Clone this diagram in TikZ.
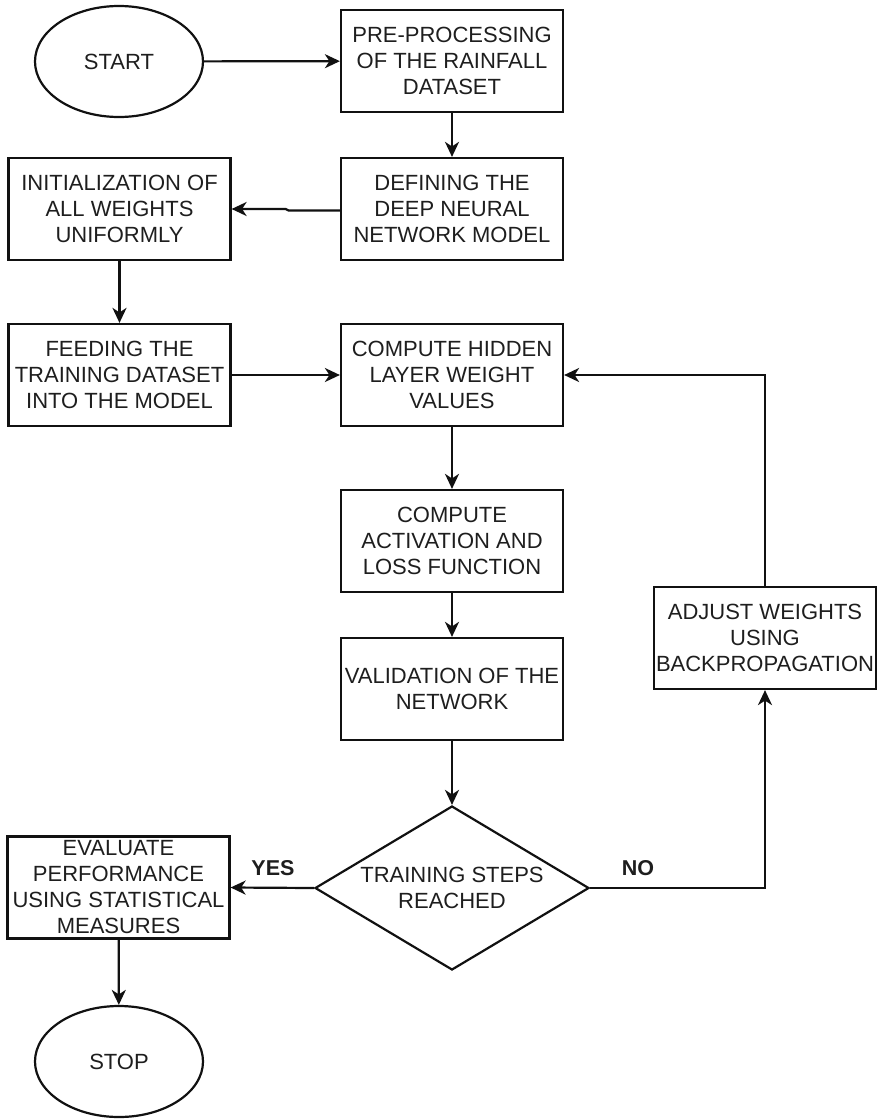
\documentclass[tikz,border=0pt]{standalone}
\usepackage{fontspec}
\setmainfont{Liberation Sans}
\usetikzlibrary{arrows.meta,shapes.geometric}
\definecolor{ink}{HTML}{111111}
\definecolor{txt}{HTML}{1E1E1E}
\begin{document}
\begin{tikzpicture}[x=1pt,y=-1pt,
  base/.style={draw=ink, line width=2.2pt, text=txt, align=center,
    font=\fontsize{22}{26}\selectfont, inner sep=0pt},
  procbox/.style={base, rectangle, minimum width=222pt, minimum height=102pt},
  term/.style={base, ellipse, minimum width=168pt, minimum height=111pt},
  decide/.style={base, diamond, minimum width=274pt, minimum height=164pt},
  arr/.style={draw=ink, line width=2.2pt, -{Stealth[length=15pt,width=14pt,inset=4.5pt]}},
  lbl/.style={text=txt, font=\fontsize{21.5}{26}\selectfont\bfseries}]
\useasboundingbox (0,0) rectangle (878,1120);

% terminals
\node[term] (start) at (119,61.5) {START};
\node[term] (stop)  at (119,1061.5) {STOP};

% process steps
\node[procbox] (pre)  at (452,61)  {PRE-PROCESSING\\OF THE RAINFALL\\DATASET};
\node[procbox] (def)  at (452,209) {DEFINING THE\\DEEP NEURAL\\NETWORK MODEL};
\node[procbox] (init) at (119.5,209) {INITIALIZATION OF\\ALL WEIGHTS\\UNIFORMLY};
\node[procbox] (feed) at (119.5,375) {FEEDING THE\\TRAINING DATASET\\INTO THE MODEL};
\node[procbox] (hid)  at (452,375) {COMPUTE HIDDEN\\LAYER WEIGHT\\VALUES};
\node[procbox] (act)  at (452,541) {COMPUTE\\ACTIVATION AND\\LOSS FUNCTION};
\node[procbox] (val)  at (452,689) {VALIDATION OF THE\\NETWORK};
\node[procbox] (adj)  at (765,638) {ADJUST WEIGHTS\\USING\\BACKPROPAGATION};
\node[procbox] (eval) at (118.5,887.5) {EVALUATE\\PERFORMANCE\\USING STATISTICAL\\MEASURES};

% decision
\node[decide] (dec) at (452,888) {};
\node[text=txt, align=center, font=\fontsize{22}{26}\selectfont] (dectext) at (dec) {TRAINING STEPS\\REACHED};

% branch labels
\node[lbl] (yes) at (273,868) {YES};
\node[lbl] (no)  at (638,868) {NO};

% main flow
\draw[arr] (start) -- (pre);
\draw[arr] (pre) -- (def);
\draw[arr] ([yshift=-1.5pt]def.west) -- ([xshift=57pt,yshift=-1.5pt]init.east)
  -- ([xshift=54pt]init.east) -- (init.east);
\draw[arr] (init) -- (feed);
\draw[arr] (feed) -- (hid);
\draw[arr] (hid) -- (act);
\draw[arr] (act) -- (val);
\draw[arr] (val) -- (dec);
\draw[arr] (dec.west) -- (eval.east);
\draw[arr] (eval) -- (stop);

% feedback loop
\draw[arr] (dec.east) -| (adj.south);
\draw[arr] (adj.north) |- (hid.east);
\end{tikzpicture}
\end{document}
